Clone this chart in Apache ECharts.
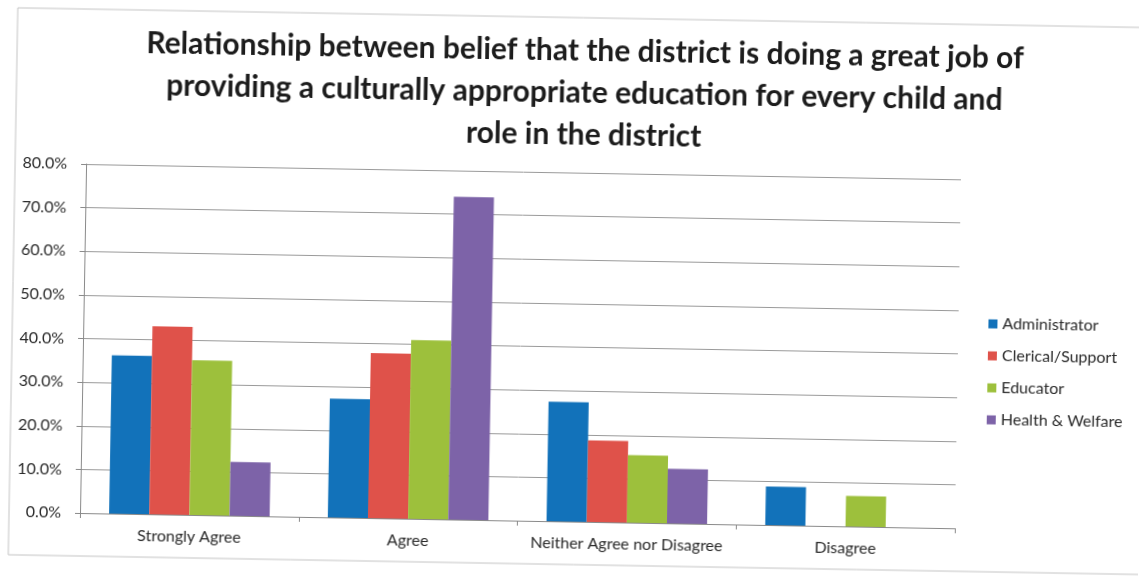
<!DOCTYPE html>
<html>
<head>
<meta charset="utf-8">
<script src="https://cdn.jsdelivr.net/npm/echarts@6/dist/echarts.min.js"></script>
<style>
  html, body { margin: 0; padding: 0; background: #ffffff; }
  #chart {
    width: 1139px; height: 576px;
    transform: rotate(1deg);
    transform-origin: 80px 513px;
  }
</style>
</head>
<body>
<div id="chart"></div>
<script>
// Survey responses by role (percent of each role's respondents)
const categories = ['Strongly Agree', 'Agree', 'Neither Agree nor Disagree', 'Disagree'];
const administrator = [36.3, 27.2, 27.4, 8.8];
const clericalSupport = [43.1, 37.8, 18.7, 0];
const educator = [35.5, 41.0, 15.5, 7.0];
const healthWelfare = [12.3, 74.0, 12.5, 0];
const seriesNames = ['Administrator', 'Clerical/Support', 'Educator', 'Health & Welfare'];
const yTicks = { min: 0, max: 80, step: 10 };

const colors = ['#1272ba', '#df524a', '#9dc03c', '#7d63a8'];
const font = 'Lato, "Open Sans", "Liberation Sans", sans-serif';

const chart = echarts.init(document.getElementById('chart'), null, { renderer: 'canvas' });

const seriesData = [administrator, clericalSupport, educator, healthWelfare];

chart.setOption({
  animation: false,
  backgroundColor: '#ffffff',
  color: colors,
  title: {
    text: 'Relationship between belief that the district is doing a great job of\nproviding a culturally appropriate education for every child and\nrole in the district',
    left: 577,
    textAlign: 'center',
    top: 21,
    padding: 0,
    textStyle: {
      fontFamily: font,
      fontSize: 30,
      fontWeight: 'bold',
      color: '#1c1c1c',
      lineHeight: 42
    }
  },
  legend: {
    orient: 'vertical',
    left: 980,
    top: 294,
    itemWidth: 9,
    itemHeight: 9,
    itemGap: 14,
    icon: 'rect',
    textStyle: { fontFamily: font, fontSize: 16, color: '#2a2a2a', lineHeight: 18 },
    data: seriesNames
  },
  grid: { left: 80, top: 164, width: 875, bottom: 63, containLabel: false },
  xAxis: {
    type: 'category',
    data: categories,
    axisLine: { lineStyle: { color: '#8a8a8a', width: 1 } },
    axisTick: { show: true, length: 5, lineStyle: { color: '#8a8a8a' } },
    axisLabel: { interval: 0, fontFamily: font, fontSize: 16, color: '#2a2a2a', margin: 14 }
  },
  yAxis: {
    type: 'value',
    min: yTicks.min,
    max: yTicks.max,
    interval: yTicks.step,
    axisLine: { show: true, lineStyle: { color: '#8a8a8a', width: 1 } },
    axisTick: { show: true, length: 5, lineStyle: { color: '#8a8a8a' } },
    axisLabel: {
      fontFamily: font, fontSize: 16, color: '#2a2a2a', margin: 19,
      formatter: v => v.toFixed(1) + '%'
    },
    splitLine: { show: true, lineStyle: { color: '#9a9a9a', width: 1 } }
  },
  graphic: [{
    type: 'rect',
    shape: { x: 9, y: 9, width: 1160, height: 547 },
    style: { fill: 'none', stroke: '#c4c4c4', lineWidth: 1 },
    silent: true,
    z: -1
  }],
  series: seriesNames.map((name, i) => ({
    name,
    type: 'bar',
    data: seriesData[i],
    barGap: '0%',
    barCategoryGap: '26.6%',
    itemStyle: { color: colors[i] }
  }))
});
</script>
</body>
</html>
